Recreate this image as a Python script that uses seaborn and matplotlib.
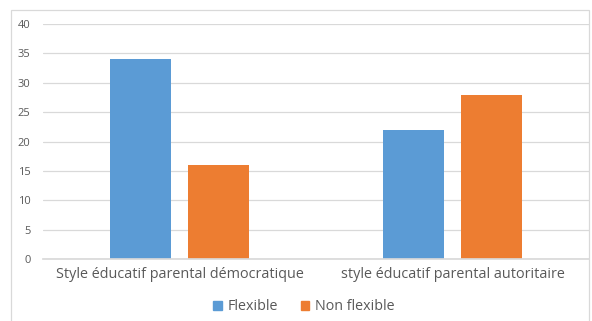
import matplotlib
matplotlib.use("Agg")
import matplotlib.pyplot as plt
import seaborn as sns
import pandas as pd
from matplotlib.patches import Rectangle, Patch

categories = ["Style éducatif parental démocratique", "style éducatif parental autoritaire"]
series_names = ["Flexible", "Non flexible"]
flexible = [34, 22]
non_flexible = [16, 28]
yticks = [0, 5, 10, 15, 20, 25, 30, 35, 40]

df = pd.DataFrame({
    "cat": categories * 2,
    "series": [series_names[0]] * 2 + [series_names[1]] * 2,
    "value": flexible + non_flexible,
})

sns.set_theme(style="white")
plt.rcParams['font.family'] = ['Open Sans', 'DejaVu Sans']

colors = ["#5B9BD5", "#ED7D31"]
W, H = 592, 321
fig = plt.figure(figsize=(W / 100, H / 100), dpi=100)
ax = fig.add_axes([43 / W, 1 - 259 / H, (589 - 43) / W, (259 - 24) / H])

sns.barplot(data=df, x="cat", y="value", hue="series", palette=colors,
            width=0.575, gap=0.223, ax=ax, legend=False, saturation=1,
            linewidth=0)

ax.set_ylim(0, 40)
ax.set_yticks(yticks)
ax.set_yticklabels([str(t) for t in yticks], fontsize=8, color="#595959")
ax.tick_params(axis="x", labelsize=10.4, labelcolor="#595959", length=0, pad=6)
ax.tick_params(axis="y", length=0, pad=9)
ax.grid(axis="y", color="#D9D9D9", linewidth=0.9)
ax.set_axisbelow(True)
for s in ["top", "right", "left"]:
    ax.spines[s].set_visible(False)
ax.spines["bottom"].set_color("#D9D9D9")
ax.set_xlabel("")
ax.set_ylabel("")

handles = [Patch(facecolor=c, edgecolor=c, label=n) for c, n in zip(colors, series_names)]
fig.legend(handles=handles, loc="center", bbox_to_anchor=(304 / W, 1 - 307 / H),
           ncol=2, frameon=False, fontsize=10.3, handlelength=0.6, handleheight=0.6,
           handletextpad=0.4, columnspacing=1.6, labelcolor="#595959")

fig.patches.append(Rectangle((11 / W, -0.01), (589 - 11) / W, 1 - 10 / H + 0.01,
                             transform=fig.transFigure, fill=False,
                             edgecolor="#D9D9D9", linewidth=0.9))

fig.savefig("out.png", dpi=100)
